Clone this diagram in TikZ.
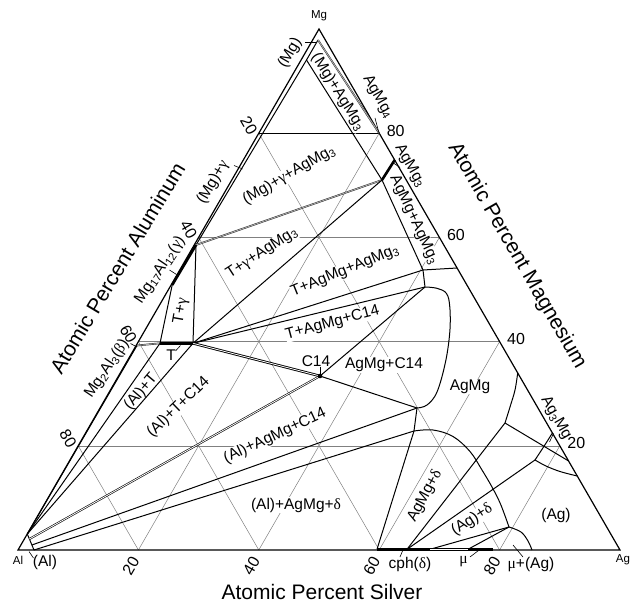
\documentclass[tikz,border=0pt]{standalone}
\usepackage{fontspec}
\setmainfont{Liberation Sans}
\newfontfamily\greekfont{Liberation Serif}
\newcommand{\gk}[1]{{\greekfont #1}}
\usepackage{tikz}

\begin{document}
\begin{tikzpicture}[x=1pt, y=-1pt,
  gridline/.style={black!50, line width=0.5pt},
  edgeline/.style={line width=1.2pt},
  phaseline/.style={line width=1pt},
  thickphase/.style={line width=2.6pt},
  greytie/.style={draw=black!85, double=black!30, double distance=0.8pt, line width=0.45pt},
  blacktie/.style={double=white, double distance=0.8pt, line width=0.6pt},
  leader/.style={line width=0.6pt},
  phaselabel/.style={font=\fontsize{15.5}{17}\selectfont, fill=white, inner sep=0.5pt},
  ticklabel/.style={font=\fontsize{16}{18}\selectfont, inner sep=0pt},
  axistitle/.style={font=\fontsize{21}{24}\selectfont, inner sep=0pt},
  cornerlabel/.style={font=\fontsize{11.5}{13}\selectfont, inner sep=0pt}]

  \useasboundingbox (0,0) rectangle (630,607);

  \coordinate (Al) at (18,550);
  \coordinate (Ag) at (620,550);
  \coordinate (Mg) at (319,29);
  \coordinate (mg-sol) at (306.5,60);
  \coordinate (mg-top) at (318,40);
  \coordinate (mg80) at (258.8,133.2);
  \coordinate (agmg4) at (379.1,133.2);
  \coordinate (agmg3-top) at (394.7,160);
  \coordinate (agmg3) at (382,180);
  \coordinate (gam-top) at (196,245);
  \coordinate (gam-bot) at (172.2,285);
  \coordinate (beta) at (137,345.5);
  \coordinate (T-left) at (160,343.3);
  \coordinate (T-right) at (193,343.3);
  \coordinate (c14) at (320,376);
  \coordinate (agmg-kink) at (423,270);
  \coordinate (agmg-corner) at (425,287);
  \coordinate (agmg-edge) at (457.1,268);
  \coordinate (agmg-c14) at (417,408);
  \coordinate (agmg-delta) at (414,431);
  \coordinate (agmg-low) at (517.7,373);
  \coordinate (agmg-ag) at (505,423);
  \coordinate (agmg-ag-end) at (568.6,461);
  \coordinate (ag3-top) at (552.4,433);
  \coordinate (ag3-mid) at (535,460);
  \coordinate (ag3-bot) at (577.2,476);
  \coordinate (delta-left) at (377,549.3);
  \coordinate (delta-mid) at (407,549.3);
  \coordinate (delta-right) at (430,549.3);
  \coordinate (mu-left) at (468,549.3);
  \coordinate (mu-right) at (493,549.3);
  \coordinate (ag-junction) at (509,527);
  \coordinate (ag-arc-end) at (532,550);
  \coordinate (al-top) at (27.3,534);
  \coordinate (al-c14) at (29.4,539);
  \coordinate (al-mid) at (31.9,545);
  \coordinate (al-bot) at (34,550);

  \foreach \k in {0.2,0.4,0.6,0.8} {
    \draw[gridline] ({319+301*\k},{29+521*\k}) -- ({18+602*\k},550);
    \draw[gridline] ({319-301*\k},{29+521*\k}) -- ({620-602*\k},550);
  }
  \foreach \k in {0.2,0.4,0.6}
    \draw[gridline] ({18+301*\k},{550-521*\k}) -- ({620-301*\k},{550-521*\k});
  \draw[line width=0.6pt] (mg80) -- (agmg4);

  \node[phaselabel, rotate=60] (lbl-mg) at (290,53) {(Mg)};
  \node[phaselabel, rotate=-58] (lbl-mg-agmg3) at (338,92) {(Mg)+AgMg\textsubscript{3}};
  \node[phaselabel, rotate=-60] (lbl-agmg4) at (378,97) {AgMg\textsubscript{4}};
  \node[phaselabel, rotate=-60] (lbl-agmg3) at (410,166) {AgMg\textsubscript{3}};
  \node[phaselabel, rotate=30] (lbl-mg-gam-agmg3) at (289,175) {(Mg)+\gk{γ}+AgMg\textsubscript{3}};
  \node[phaselabel, rotate=60] (lbl-mg-gam) at (213,182) {(Mg)+\gk{γ}};
  \node[phaselabel, rotate=-65] (lbl-agmg-agmg3) at (414,220) {AgMg+AgMg\textsubscript{3}};
  \node[phaselabel, rotate=33] (lbl-t-gam-agmg3) at (262,253) {T+\gk{γ}+AgMg\textsubscript{3}};
  \node[phaselabel, rotate=56] (lbl-gam) at (160,270) {Mg\textsubscript{17}Al\textsubscript{12}(\gk{γ})};
  \node[phaselabel, rotate=80] (lbl-t-gam) at (181,311) {T+\gk{γ}};
  \node[phaselabel, rotate=22] (lbl-t-agmg-agmg3) at (345,271) {T+AgMg+AgMg\textsubscript{3}};
  \node[phaselabel, rotate=15] (lbl-t-agmg-c14) at (332.5,323) {T+AgMg+C14};
  \node[phaselabel] (lbl-t) at (171,355) {T};
  \node[phaselabel, rotate=56] (lbl-beta) at (107,369) {Mg\textsubscript{2}Al\textsubscript{3}(\gk{β})};
  \node[phaselabel] (lbl-c14) at (316,361) {C14};
  \node[phaselabel] (lbl-agmg-c14) at (384,365) {AgMg+C14};
  \node[phaselabel] (lbl-agmg) at (470,387) {AgMg};
  \node[phaselabel, rotate=50] (lbl-al-t) at (141,392) {(Al)+T};
  \node[phaselabel, rotate=44] (lbl-al-t-c14) at (178.5,407) {(Al)+T+C14};
  \node[phaselabel, rotate=25] (lbl-al-agmg-c14) at (275,436) {(Al)+AgMg+C14};
  \node[phaselabel] (lbl-al-agmg-delta) at (296,505) {(Al)+AgMg+\gk{δ}};
  \node[phaselabel, rotate=62] (lbl-agmg-delta) at (425,496) {AgMg+\gk{δ}};
  \node[phaselabel, rotate=33] (lbl-ag-delta) at (472,520) {(Ag)+\gk{δ}};
  \node[phaselabel, rotate=-60] (lbl-ag3mg) at (556,418) {Ag\textsubscript{3}Mg};
  \node[phaselabel] (lbl-ag) at (556,515) {(Ag)};
  \node[phaselabel] (lbl-cph) at (410,564) {cph(\gk{δ})};
  \node[phaselabel] (lbl-mu) at (463.5,562) {\gk{μ}};
  \node[phaselabel] (lbl-mu-ag) at (531,565) {\gk{μ}+(Ag)};
  \node[phaselabel] (lbl-al) at (45,562) {(Al)};

  \draw[edgeline] (Al) -- (Ag) -- (Mg) -- cycle;

  \draw[phaseline] (mg-sol) -- (mg-top);
  \draw[phaseline] (mg-sol) -- (gam-top);
  \draw[phaseline] (mg-sol) -- (agmg3);
  \draw[greytie] (mg-top) -- (agmg4);
  \draw[greytie] (gam-top) -- (agmg3);
  \draw[thickphase] (agmg3-top) -- (agmg3);
  \draw[phaseline] (T-right) -- (agmg3);
  \draw[phaseline] (agmg3) -- (agmg-kink) -- (agmg-corner);
  \draw[phaseline] (T-right) -- (agmg-kink) -- (agmg-edge);
  \draw[phaseline] (T-right) -- (agmg-corner);
  \draw[phaseline] (T-right) -- (gam-top);
  \draw[phaseline] (T-left) -- (gam-bot);
  \draw[thickphase] (gam-bot) -- (gam-top);
  \draw[greytie] (beta) -- (T-left);
  \draw[thickphase] (T-left) -- (T-right);
  \draw[blacktie, line width=0.9pt] (T-right) -- (c14);
  \draw[phaseline] (c14) -- (agmg-corner);
  \draw[phaseline] (c14) -- (agmg-c14);
  \draw[phaseline] plot[smooth, tension=0.6] coordinates {(agmg-corner) (437,288.3) (446.5,293.5)
    (449.8,307) (449.8,332) (445.5,362) (437,392) (427,405) (agmg-c14)};
  \draw[phaseline] (agmg-c14) -- (agmg-delta);
  \draw[phaseline] plot[smooth, tension=0.6] coordinates {(agmg-delta) (433,430) (453,436.5)
    (470,451.5) (482,470) (492,487) (500.5,504) (ag-junction)};
  \draw[phaseline] plot[smooth, tension=0.6] coordinates {(ag-junction) (521,532) (528,541) (ag-arc-end)};
  \draw[phaseline] plot[smooth, tension=0.6] coordinates {(agmg-low) (515,390) (510,407) (agmg-ag)};
  \draw[phaseline] (agmg-ag) -- (agmg-ag-end);
  \draw[phaseline] plot[smooth, tension=0.6] coordinates {(ag3-top) (544.5,445.5) (ag3-mid)};
  \draw[phaseline] plot[smooth, tension=0.6] coordinates {(ag3-mid) (546,466) (560,471.5) (ag3-bot)};
  \draw[phaseline] (delta-mid) -- (agmg-ag);
  \draw[phaseline] (delta-mid) -- (ag3-mid);
  \draw[phaseline] (delta-left) -- (agmg-delta);
  \draw[phaseline] (delta-right) -- (ag-junction);
  \draw[phaseline] (mu-left) -- (ag-junction);
  \draw[thickphase] (delta-left) -- (delta-right);
  \draw[blacktie, line width=0.8pt] (delta-right) -- (mu-left);
  \draw[thickphase] (mu-left) -- (mu-right);
  \draw[phaseline] (al-top) -- (al-bot);
  \draw[phaseline] (al-top) -- (beta);
  \draw[phaseline] (al-top) -- (T-left);
  \draw[phaseline] (al-top) -- (T-right);
  \draw[blacktie] (al-c14) -- (c14);
  \draw[phaseline] (al-mid) -- (agmg-c14);
  \draw[phaseline] (al-bot) -- (agmg-delta);
  \fill (c14) circle[radius=2.3pt];

  \coordinate (lead-mg-a) at (305,42);        \coordinate (lead-mg-b) at (316,42);
  \coordinate (lead-agmg4-a) at (375,118);    \coordinate (lead-agmg4-b) at (379,133);
  \coordinate (lead-agmg3-a) at (400,167.5);  \coordinate (lead-agmg3-b) at (392,162);
  \coordinate (lead-mggam-a) at (234,165.5);  \coordinate (lead-mggam-b) at (242.5,169);
  \coordinate (lead-gam-a) at (169.5,270);    \coordinate (lead-gam-b) at (176.5,274.5);
  \coordinate (lead-beta-a) at (130.5,343.5); \coordinate (lead-beta-b) at (136,346.5);
  \coordinate (lead-t-a) at (175.5,351);      \coordinate (lead-t-b) at (180.5,345.5);
  \coordinate (lead-c14-a) at (320,366.5);    \coordinate (lead-c14-b) at (320,373.5);
  \coordinate (lead-cph-a) at (400,557);      \coordinate (lead-cph-b) at (402.5,551);
  \coordinate (lead-mu-a) at (470,557);       \coordinate (lead-mu-b) at (478.5,550.5);
  \coordinate (lead-muag-a) at (523,557);     \coordinate (lead-muag-b) at (513,545);
  \coordinate (lead-ag3-a) at (549.5,442);    \coordinate (lead-ag3-b) at (553.5,433.5);
  \coordinate (lead-al-a) at (29,551.5);      \coordinate (lead-al-b) at (33.5,558);
  \foreach \n in {mg,agmg4,agmg3,mggam,gam,beta,t,c14,cph,mu,muag,ag3,al}
    \draw[leader] (lead-\n-a) -- (lead-\n-b);

  \foreach \k/\t in {0.2/20,0.4/40,0.6/60,0.8/80} {
    \node[ticklabel, rotate=60] (ag\t) at ({10.5+602*\k},566) {\t};
    \node[ticklabel, rotate=-60] (al\t) at ({8+301*(1-\k)},{542.5-521*(1-\k)}) {\t};
    \node[ticklabel] (mg\t) at ({636.5-301*\k},{547.5-521*\k}) {\t};
  }

  \node[axistitle, rotate=59] (title-al) at (117.5,268) {Atomic Percent Aluminum};
  \node[axistitle, rotate=-60] (title-mg) at (517,256) {Atomic Percent Magnesium};
  \node[axistitle] (title-ag) at (322,592) {Atomic Percent Silver};
  \node[cornerlabel] (name-mg) at (319,16) {Mg};
  \node[cornerlabel] (name-al) at (18,560) {Al};
  \node[cornerlabel] (name-ag) at (623,560) {Ag};
\end{tikzpicture}
\end{document}
